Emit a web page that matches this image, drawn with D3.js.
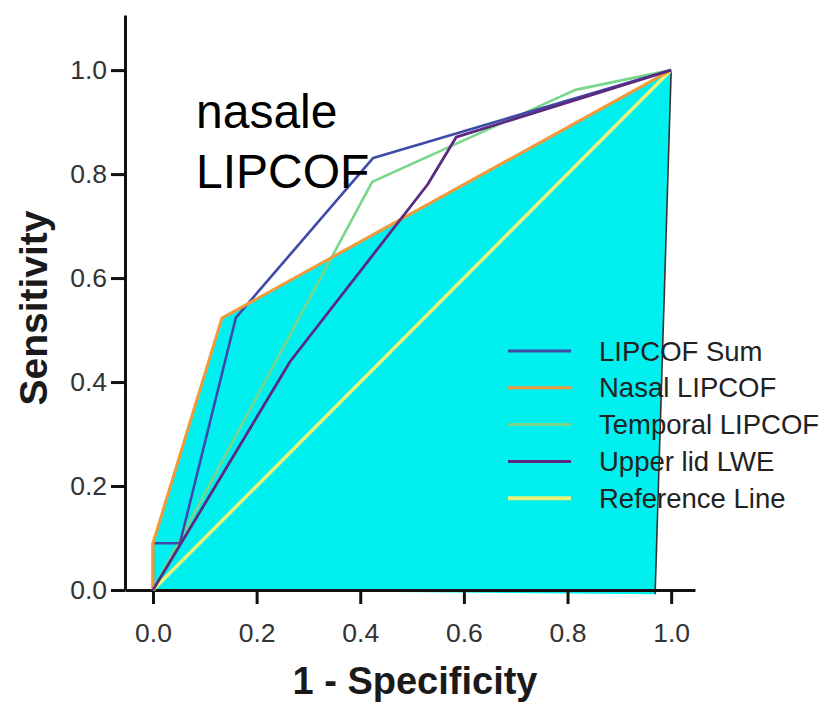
<!DOCTYPE html>
<html>
<head>
<meta charset="utf-8">
<script src="https://cdn.jsdelivr.net/npm/d3@7"></script>
<style>
  html, body { margin: 0; padding: 0; background: #fff; }
  svg { display: block; }
  text { font-family: "Liberation Sans", Arial, sans-serif; }
</style>
</head>
<body>
<svg id="chart" width="831" height="704"></svg>
<script>
// ROC curves: 1 - specificity (x) against sensitivity (y)
const sumFpr = [0, 0, 0.052, 0.16, 0.425, 1];
const sumTpr = [0, 0.09, 0.09, 0.524, 0.831, 1];

const nasalFpr = [0, 0, 0.133, 1];
const nasalTpr = [0, 0.09, 0.523, 1];

const temporalFpr = [0, 0.423, 0.815, 1];
const temporalTpr = [0, 0.785, 0.962, 1];

const upperFpr = [0, 0.058, 0.265, 0.53, 0.585, 1];
const upperTpr = [0, 0.096, 0.44, 0.78, 0.871, 1];

const refFpr = [0, 1];
const refTpr = [0, 1];

// area under the nasal LIPCOF curve, closed on the right by a drawn edge
const areaFpr = [0, 0, 0.133, 1, 0.969];
const areaTpr = [0, 0.09, 0.523, 1, -0.008];

const tickValues = [0, 0.2, 0.4, 0.6, 0.8, 1.0];
const legendLabels = ["LIPCOF Sum", "Nasal LIPCOF", "Temporal LIPCOF", "Upper lid LWE", "Reference Line"];
const noteLines = ["nasale", "LIPCOF"];

const colors = {
  sum: "#3f4aa8",
  nasal: "#f29a3a",
  temporal: "#78d68a",
  upper: "#5b2a80",
  ref: "#eaf27a",
  fill: "#00f0f0"
};

const svg = d3.select("#chart");

const x = d3.scaleLinear().domain([-0.054, 1.046]).range([125, 695]);
const y = d3.scaleLinear().domain([0, 1.106]).range([590, 15]);

const pts = (fx, ty) => fx.map((v, i) => [v, ty[i]]);
const line = d3.line().x(d => x(d[0])).y(d => y(d[1]));

// shaded area
svg.append("path")
  .attr("d", line(pts(areaFpr, areaTpr)) + "Z")
  .attr("fill", colors.fill)
  .attr("stroke", "none");
// right edge of the shaded area
svg.append("path")
  .attr("d", line([[areaFpr[3], areaTpr[3]], [areaFpr[4], areaTpr[4]]]))
  .attr("fill", "none")
  .attr("stroke", "#333")
  .attr("stroke-width", 1.6);

// axes
const xAxis = d3.axisBottom(x).tickValues(tickValues).tickFormat(d3.format(".1f"))
  .tickSizeInner(14).tickSizeOuter(0).tickPadding(19);
const yAxis = d3.axisLeft(y).tickValues(tickValues).tickFormat(d3.format(".1f"))
  .tickSizeInner(14).tickSizeOuter(0).tickPadding(4);

const gx = svg.append("g").attr("transform", `translate(0,${y(0)})`).call(xAxis);
const gy = svg.append("g").attr("transform", `translate(${x(-0.054)},0)`).call(yAxis);

[gx, gy].forEach(g => {
  g.select(".domain").attr("stroke", "#111").attr("stroke-width", 3);
  g.selectAll(".tick line").attr("stroke", "#111").attr("stroke-width", 3);
  g.selectAll(".tick text")
    .attr("font-size", 26.5)
    .attr("fill", "#333")
    .style("font-family", '"Liberation Sans", Arial, sans-serif');
});

// series, drawn back to front
const series = [
  { fpr: refFpr, tpr: refTpr, color: colors.ref, w: 3.5 },
  { fpr: temporalFpr, tpr: temporalTpr, color: colors.temporal, w: 2.6 },
  { fpr: sumFpr, tpr: sumTpr, color: colors.sum, w: 2.6 },
  { fpr: nasalFpr, tpr: nasalTpr, color: colors.nasal, w: 3 },
  { fpr: upperFpr, tpr: upperTpr, color: colors.upper, w: 2.8 }
];
series.forEach(s => {
  svg.append("path")
    .attr("d", line(pts(s.fpr, s.tpr)))
    .attr("fill", "none")
    .attr("stroke", s.color)
    .attr("stroke-width", s.w)
    .attr("stroke-linejoin", "round");
});

// legend
const legendColors = [colors.sum, colors.nasal, colors.temporal, colors.upper, colors.ref];
const legend = svg.append("g");
legendLabels.forEach((label, i) => {
  const cy = 351 + i * 36.8;
  legend.append("line")
    .attr("x1", 508).attr("x2", 571)
    .attr("y1", cy).attr("y2", cy)
    .attr("stroke", legendColors[i])
    .attr("stroke-width", i === 4 ? 4 : 3);
  legend.append("text")
    .attr("x", 599).attr("y", cy + 9.5)
    .attr("font-size", 27.5)
    .attr("fill", "#222")
    .text(label);
});

// note
noteLines.forEach((t, i) => {
  svg.append("text")
    .attr("x", 196).attr("y", 128 + i * 60)
    .attr("font-size", 48)
    .attr("fill", "#000")
    .text(t);
});

// axis titles
svg.append("text")
  .attr("x", 415).attr("y", 694)
  .attr("text-anchor", "middle")
  .attr("font-size", 38)
  .attr("font-weight", "bold")
  .attr("fill", "#1a1a1a")
  .text("1 - Specificity");

svg.append("text")
  .attr("transform", "translate(47,308) rotate(-90)")
  .attr("text-anchor", "middle")
  .attr("font-size", 39)
  .attr("font-weight", "bold")
  .attr("fill", "#1a1a1a")
  .text("Sensitivity");
</script>
</body>
</html>
